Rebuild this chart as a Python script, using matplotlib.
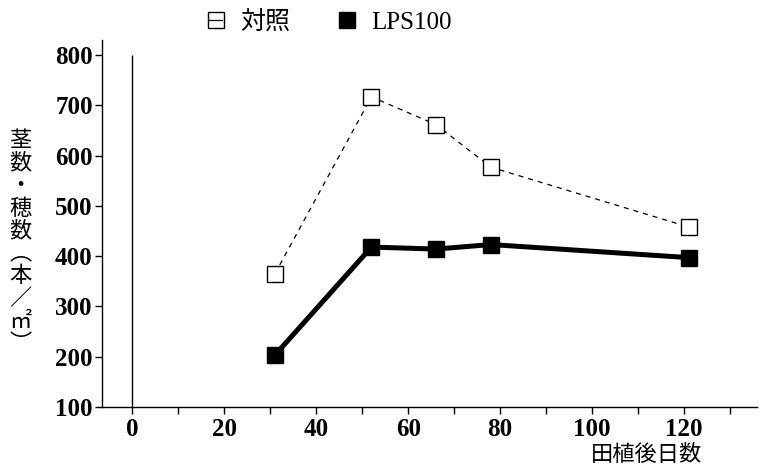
import matplotlib
matplotlib.use("Agg")
import matplotlib.pyplot as plt
from matplotlib.lines import Line2D
from matplotlib.ticker import MultipleLocator

plt.rcParams['font.family'] = ['Liberation Serif', 'Noto Sans CJK JP', 'DejaVu Sans']

# data
days = [31, 52, 66, 78, 121]
control = [365, 717, 662, 577, 458]
lps100 = [203, 418, 414, 423, 397]
series_names = ['対照', 'LPS100']
x_ticks = [0, 20, 40, 60, 80, 100, 120]
y_ticks = [100, 200, 300, 400, 500, 600, 700, 800]


def main():
    fig = plt.figure(figsize=(7.59, 4.67), dpi=100)
    ax = fig.add_axes([0.134, 0.129, 0.864, 0.785])

    ax.plot(days, control, linestyle=(0, (4, 4)), color='black', linewidth=0.9,
            marker='s', markersize=11, markerfacecolor='white',
            markeredgecolor='black', markeredgewidth=1.0, zorder=3)
    ax.plot(days, lps100, linestyle='-', color='black', linewidth=3.6,
            marker='s', markersize=11, markerfacecolor='black',
            markeredgecolor='black', zorder=3)

    # reference line at day 0
    ax.vlines(0, y_ticks[0], y_ticks[-1], color='black', linewidth=1.0)

    ax.set_xlim(-6.7, 136)
    ax.set_ylim(100, 830)
    ax.set_xticks(x_ticks)
    ax.xaxis.set_minor_locator(MultipleLocator(10))
    ax.set_yticks(y_ticks)
    ax.spines['top'].set_visible(False)
    ax.spines['right'].set_visible(False)
    for s in ['left', 'bottom']:
        ax.spines[s].set_linewidth(1.0)
    ax.tick_params(axis='both', which='major', direction='out', length=5, width=1.0,
                   labelsize=18)
    ax.tick_params(axis='x', which='minor', direction='out', length=5, width=1.0)
    ax.tick_params(axis='x', pad=3)
    ax.tick_params(axis='y', pad=1.5)
    for lab in ax.get_xticklabels() + ax.get_yticklabels():
        lab.set_fontweight('bold')

    ax.set_xlabel('田植後日数', fontsize=16, family=['Noto Sans CJK JP'])
    ax.xaxis.set_label_coords(0.83, -0.098)
    ax.xaxis.label.set_va('top')

    ylab = '\n'.join(['茎', '数', '・', '穂', '数', '︵', '本', '／', '㎡', '︶'])
    fig.text(0.027, 0.482, ylab, fontsize=16, family=['Noto Sans CJK JP'],
             ha='center', va='center', linespacing=0.98)

    # legend proxies: open square with a line through it, filled square
    h1 = Line2D([], [], color='black', linewidth=0.9, marker='s', markersize=11,
                markerfacecolor='none', markeredgecolor='black', markeredgewidth=1.0)
    h2 = Line2D([], [], color='black', linewidth=0, marker='s', markersize=11,
                markerfacecolor='black', markeredgecolor='black')
    leg = fig.legend([h1, h2], series_names, loc='center', bbox_to_anchor=(0.435, 0.953),
                     ncol=2, frameon=False, fontsize=18, handlelength=0.55,
                     columnspacing=2.0, handletextpad=0.7)
    for t in leg.get_texts():
        t.set_family(['Liberation Serif', 'Noto Sans CJK JP'])

    fig.savefig('out.png', dpi=100)


if __name__ == "__main__":
    main()
